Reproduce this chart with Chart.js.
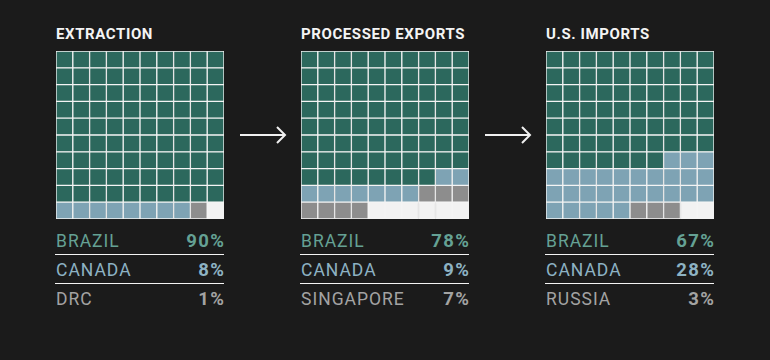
<!DOCTYPE html>
<html>
<head>
<meta charset="utf-8">
<script src="https://cdn.jsdelivr.net/npm/chart.js@4"></script>
<style>
  html, body { margin: 0; padding: 0; background: #1b1b1b; }
  #wrap { position: relative; width: 770px; height: 360px; overflow: hidden; font-family: Roboto, "Liberation Sans", sans-serif; }
  .title { position: absolute; top: 25px; color: #f4f4f4; font-weight: 700; font-size: 15px; letter-spacing: 0.6px; white-space: nowrap; }
  .grid { position: absolute; top: 51px; width: 168px; height: 168px; }
  .row { position: absolute; width: 169px; height: 24px; font-size: 17.5px; line-height: 20px; }
  .row .name { position: absolute; left: 1px; bottom: 3px; letter-spacing: 1px; }
  .row .pct { position: absolute; right: 0; bottom: 3px; font-weight: 700; letter-spacing: 1.4px; margin-right: -1.4px; font-size: 18.5px; }
  .row.line { border-bottom: 1.5px solid #f4f4f4; }
  svg { position: absolute; }
</style>
</head>
<body>
<div id="wrap"></div>
<script>
/* DATA */
const panels = ["EXTRACTION", "PROCESSED EXPORTS", "U.S. IMPORTS"];
const countries = [
  ["BRAZIL", "CANADA", "DRC"],
  ["BRAZIL", "CANADA", "SINGAPORE"],
  ["BRAZIL", "CANADA", "RUSSIA"],
];
const shares = [
  [90, 8, 1],
  [78, 9, 7],
  [67, 28, 3],
];
const columns = ["1", "2", "3", "4", "5", "6", "7", "8", "9", "10"];

const cellColors = ["#2c685d", "#7ea3b4", "#8d8d8d"];
const emptyColor = "#f2f2f2";
const textColors = ["#65a194", "#8db2c3", "#a3a3a3"];

const wrap = document.getElementById("wrap");

/* cell colour for index (row-major from top left) */
function cellColor(share, idx) {
  let acc = 0;
  for (let k = 0; k < share.length; k++) {
    acc += share[k];
    if (idx < acc) return cellColors[k];
  }
  return emptyColor;
}

panels.forEach((title, p) => {
  const left = 56 + p * 245;

  const t = document.createElement("div");
  t.className = "title";
  t.style.left = left + "px";
  t.innerText = title;
  wrap.appendChild(t);

  const box = document.createElement("div");
  box.className = "grid";
  box.style.left = left + "px";
  const cv = document.createElement("canvas");
  box.appendChild(cv);
  wrap.appendChild(box);

  // one stacked dataset per row, bottom row first
  const datasets = [];
  for (let r = columns.length - 1; r >= 0; r--) {
    datasets.push({
      data: columns.map(() => 1),
      backgroundColor: columns.map((c, ci) => cellColor(shares[p], r * 10 + ci)),
      borderColor: "#f4f4f4",
      borderWidth: 1,
      borderSkipped: false,
      categoryPercentage: 1,
      barPercentage: 1,
    });
  }

  new Chart(cv, {
    type: "bar",
    data: { labels: columns, datasets },
    options: {
      responsive: true,
      maintainAspectRatio: false,
      animation: false,
      layout: { padding: 0 },
      plugins: { legend: { display: false }, tooltip: { enabled: false } },
      scales: {
        x: { stacked: true, display: false },
        y: { stacked: true, display: false, min: 0, max: 10 },
      },
    },
  });

  countries[p].forEach((name, i) => {
    const row = document.createElement("div");
    row.className = "row" + (i < 2 ? " line" : "");
    row.style.left = (left - 1) + "px";
    row.style.top = (230 + i * 29) + "px";
    row.style.color = textColors[i];
    row.innerHTML = '<span class="name">' + name + '</span><span class="pct">' + shares[p][i] + '%</span>';
    wrap.appendChild(row);
  });

  if (p < panels.length - 1) {
    const svg = document.createElementNS("http://www.w3.org/2000/svg", "svg");
    svg.setAttribute("width", "52");
    svg.setAttribute("height", "24");
    svg.style.left = (left + 183) + "px";
    svg.style.top = "123px";
    svg.innerHTML =
      '<path d="M1 12 H46 M38 4 L46 12 L38 20" stroke="#f0f0f0" stroke-width="2" fill="none"/>';
    wrap.appendChild(svg);
  }
});
</script>
</body>
</html>
